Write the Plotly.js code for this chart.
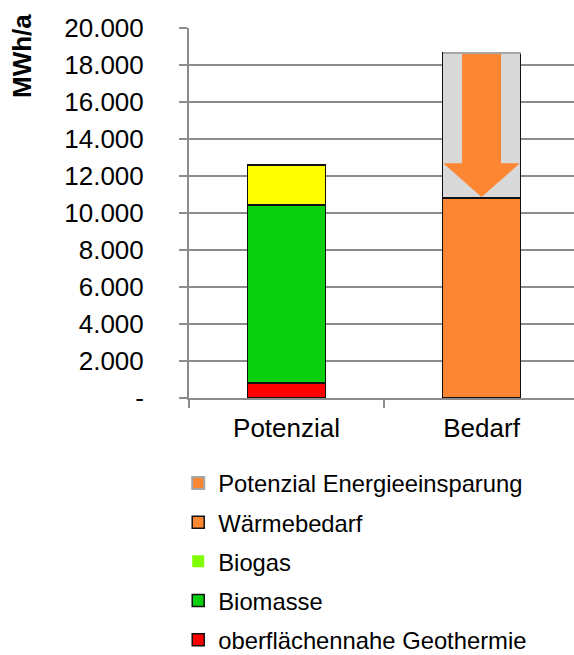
<!DOCTYPE html>
<html>
<head>
<meta charset="utf-8">
<script src="https://cdn.plot.ly/plotly-3.0.1.min.js"></script>
<style>html,body{margin:0;padding:0;background:#fff;}#chart{width:574px;height:655px;}</style>
</head>
<body>
<div id="chart"></div>
<script>
// ---- data ----
const categories = ['Potenzial', 'Bedarf'];
const geothermie = [800, null];        // oberflächennahe Geothermie
const biomasse = [9630, null];         // Biomasse
const solar = [2170, null];            // yellow segment (not in legend)
const biogas = [0, null];              // Biogas (legend only, no visible amount)
const waermebedarf = [null, 10800];    // Wärmebedarf
const einsparung = [null, 7850];       // Potenzial Energieeinsparung
const yTickVals = [0, 2000, 4000, 6000, 8000, 10000, 12000, 14000, 16000, 18000, 20000];
const yTickText = ['-', '2.000', '4.000', '6.000', '8.000', '10.000', '12.000', '14.000', '16.000', '18.000', '20.000'];
const yTitle = 'MWh/a';

// ---- styles ----
const FONT = 'Liberation Sans, Arial, sans-serif';
const GRID = '#8c8c8c';
const ORANGE = '#fd8633';
const barLine = {color: '#111', width: 1.5};
const BARW = 0.4;
const xIdx = categories.map((c, i) => i);

function barTrace(name, vals, color, line, rank, extra) {
  return Object.assign({
    type: 'bar', name: name, x: xIdx, y: vals, width: BARW,
    marker: {color: color, line: line}, legendgroup: name, legendrank: rank, hoverinfo: 'skip'
  }, extra || {});
}

const traces = [
  barTrace('oberflächennahe Geothermie', geothermie, '#ff0000', barLine, 5),
  barTrace('Biomasse', biomasse, '#0ad010', barLine, 4),
  barTrace('Biogas', biogas, '#80ff00', {width: 0}, 3),
  barTrace('Solar', solar, '#ffff00', barLine, 9, {showlegend: false}),
  barTrace('Wärmebedarf', waermebedarf, ORANGE, barLine, 2),
  barTrace('Potenzial Energieeinsparung', einsparung, '#d9d9d9', barLine, 1, {showlegend: false, legendgroup: 'e'}),
  // legend swatch for the saving potential (orange arrow on grey); zero height, not drawn
  {type: 'bar', name: 'Potenzial Energieeinsparung', x: [xIdx[1]], y: [0], width: BARW, legendgroup: 'e', legendrank: 1,
   marker: {color: ORANGE, line: {color: '#a6a6a6', width: 2}}, hoverinfo: 'skip'}
];

// arrow inside the saving-potential segment, derived from the data
const bi = 1;
const arrBottom = waermebedarf[bi];
const arrTop = waermebedarf[bi] + einsparung[bi];
const inset = 60;
const headY = arrBottom + (arrTop - arrBottom) * 0.24;
const hw = BARW / 2 - 0.004, sw = BARW / 4;
traces.push({
  type: 'scatter', mode: 'lines', fill: 'toself', fillcolor: ORANGE,
  line: {width: 0, color: ORANGE}, showlegend: false, hoverinfo: 'skip',
  x: [bi - sw, bi + sw, bi + sw, bi + hw, bi, bi - hw, bi - sw, bi - sw],
  y: [arrTop - inset, arrTop - inset, headY, headY, arrBottom + inset, headY, headY, arrTop - inset]
});

const layout = {
  width: 574, height: 655,
  margin: {l: 189, r: 0, t: 28, b: 257},
  paper_bgcolor: '#fff', plot_bgcolor: '#fff',
  barmode: 'stack',
  font: {family: FONT, color: '#000', size: 26},
  xaxis: {
    type: 'linear', range: [-0.5, 1.474], fixedrange: true,
    tickmode: 'array', tickvals: xIdx, ticktext: categories,
    ticks: '', showgrid: false, zeroline: false,
    showline: true, linecolor: GRID, linewidth: 2,
    tickfont: {size: 26, color: '#000'}, ticklabelstandoff: 6,
    minor: {tickmode: 'array', tickvals: [-0.5, 0.5, 1.5], ticks: 'outside', ticklen: 8, tickwidth: 2, tickcolor: GRID, showgrid: false}
  },
  yaxis: {
    range: [0, 20000], fixedrange: true,
    tickmode: 'array', tickvals: yTickVals, ticktext: yTickText,
    ticks: 'outside', ticklen: 8, tickwidth: 2, tickcolor: GRID,
    showline: true, linecolor: GRID, linewidth: 2,
    showgrid: true, gridcolor: GRID, gridwidth: 1.5, zeroline: false,
    tickfont: {size: 26, color: '#000'}, ticklabelstandoff: 30
  },
  legend: {
    orientation: 'v', traceorder: 'grouped', tracegroupgap: 5.2,
    x: -0.028, xanchor: 'left', xref: 'paper',
    y: 0.296, yanchor: 'top', yref: 'container',
    font: {size: 23.8, color: '#000', family: FONT},
    bgcolor: 'rgba(0,0,0,0)'
  },
  annotations: [{
    text: '<b>' + yTitle + '</b>', textangle: -90, showarrow: false,
    xref: 'paper', yref: 'paper', x: (22 - 189) / 385, y: 1 - (56 - 28) / 370,
    xanchor: 'center', yanchor: 'middle',
    font: {size: 26, color: '#000', family: FONT}
  }],
  showlegend: true
};

Plotly.newPlot('chart', traces, layout, {displayModeBar: false, staticPlot: true});
</script>
</body>
</html>
